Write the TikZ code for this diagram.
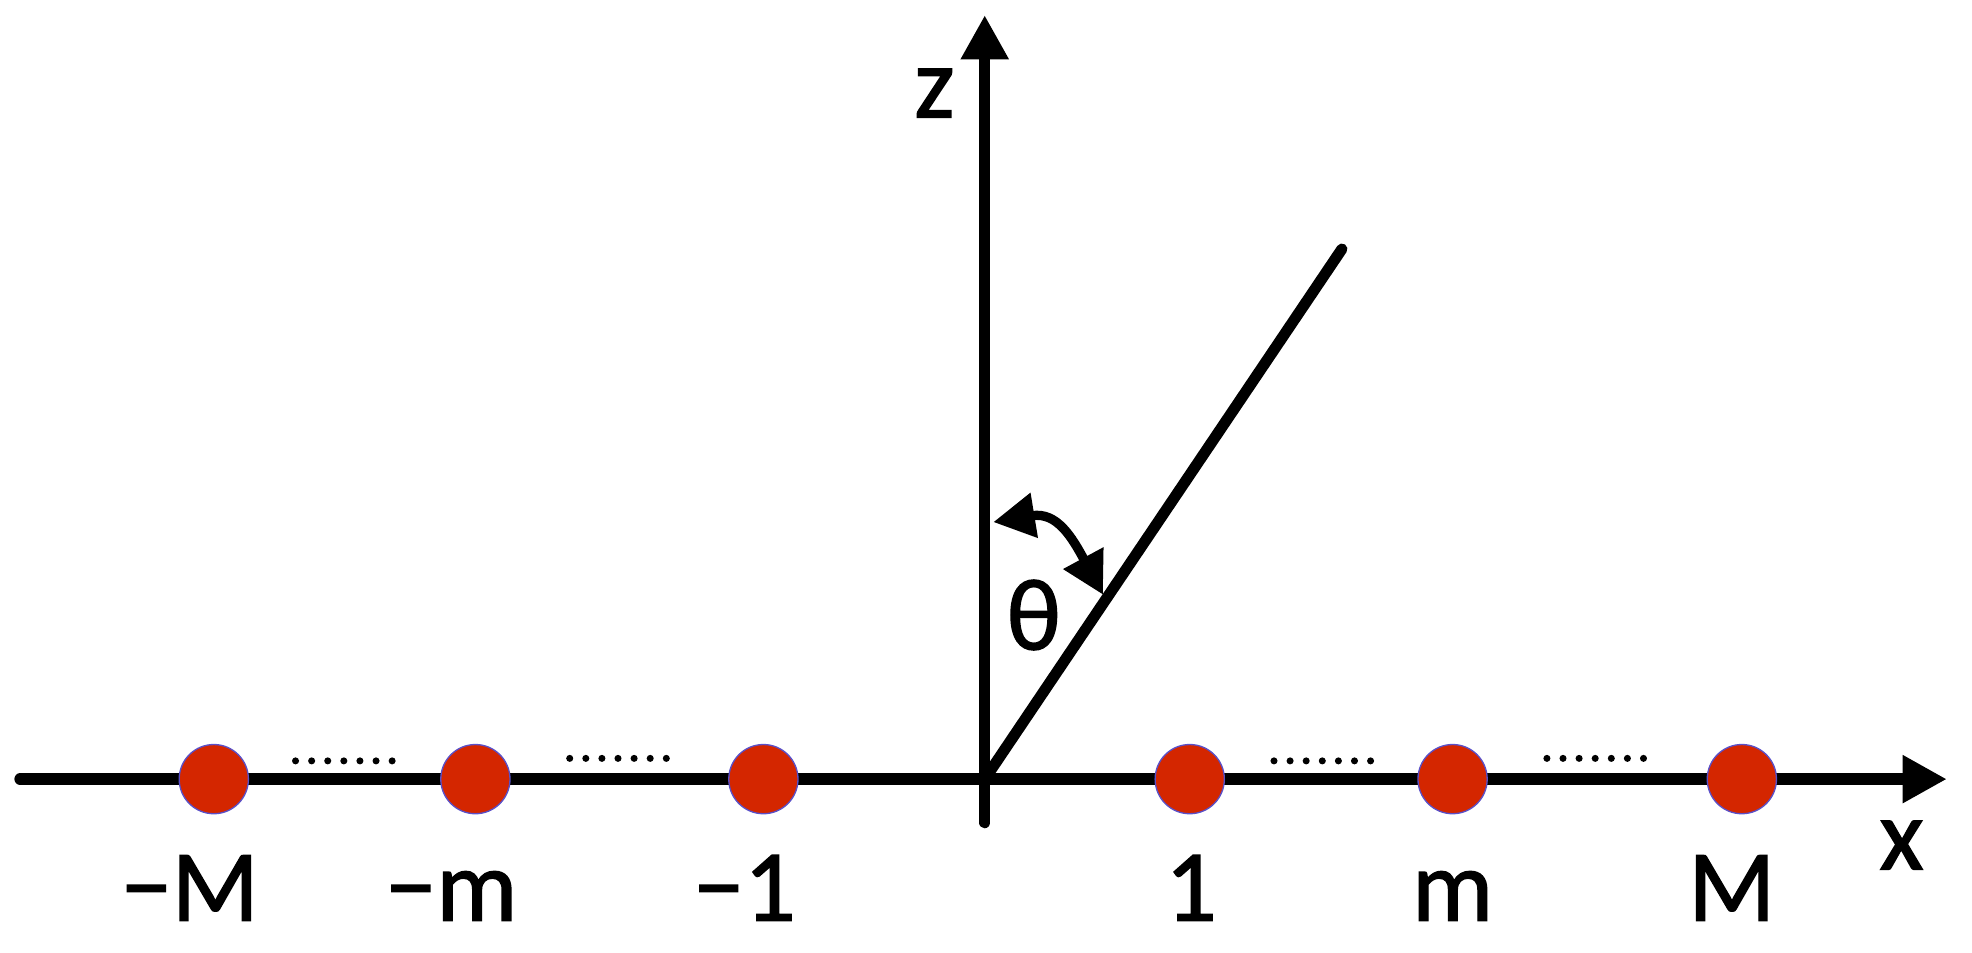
\documentclass[tikz,border=0pt]{standalone}
\usepackage{fontspec}
\setmainfont{Carlito}[FakeBold=1.4]
\usetikzlibrary{arrows.meta}
\definecolor{ballred}{RGB}{212,38,0}
\definecolor{ballrim}{RGB}{90,80,200}
\begin{document}
\begin{tikzpicture}[x=0.01cm,y=-0.01cm,
  axis/.style={line width=2.6pt,line cap=round,-{Triangle[length=10pt,width=10.2pt]}},
  ray/.style={line width=2.5pt,line cap=round},
  anglearrow/.style={line width=2.1pt,shorten <=-9pt,shorten >=-9pt,
    {Triangle[length=9.4pt,width=9.8pt]}-{Triangle[length=9.4pt,width=9.8pt]}},
  ball/.style={circle,fill=ballred,draw=ballrim,line width=0.3pt,minimum size=0.55cm,inner sep=0pt},
  lbl/.style={font=\fontsize{23}{27}\selectfont,inner sep=0pt},
  dotty/.style={fill=black}]
\useasboundingbox (0,0) rectangle (1568,757);
% axes
\coordinate (O) at (783,619.5);
\coordinate (xs) at (16,619.5);
\coordinate (xe) at (1548,619.5);
\coordinate (zs) at (783,654);
\coordinate (ze) at (783,12);
\coordinate (rayend) at (1067,198);
\draw[axis] (xs) -- (xe);
\draw[axis] (zs) -- (ze);
\draw[ray] (O) -- (rayend);
% angle arrow (visible arc between the arrow bases)
\coordinate (bL) at (821,410);
\coordinate (bR) at (862,445);
\draw[anglearrow] (bL) .. controls (840.5,406.8) and (852.6,427.6) .. (bR);
\node[lbl] (theta) at (822,489) {θ};
% balls
\foreach \n/\x in {c1/170,c2/378,c3/607,c4/946,c5/1155,c6/1385}
  \node[ball] (\n) at (\x,619.5) {};
% dots
\foreach \x/\y in {235/605,453/603,1013/605,1230/603}
  \foreach \i in {0,...,6}
    \fill[dotty] (\x+\i*12.8,\y) circle (2.8);
% labels
\foreach \n/\x/\t in {l1/151/−M,l2/359/−m,l3/592/−1,l4/947/1,l5/1155/m,l6/1377/M}
  \node[lbl,anchor=base] (\n) at (\x,732) {\t};
\node[lbl] (zl) at (743,74) {z};
\node[lbl] (xl) at (1512,672) {x};
\end{tikzpicture}
\end{document}
